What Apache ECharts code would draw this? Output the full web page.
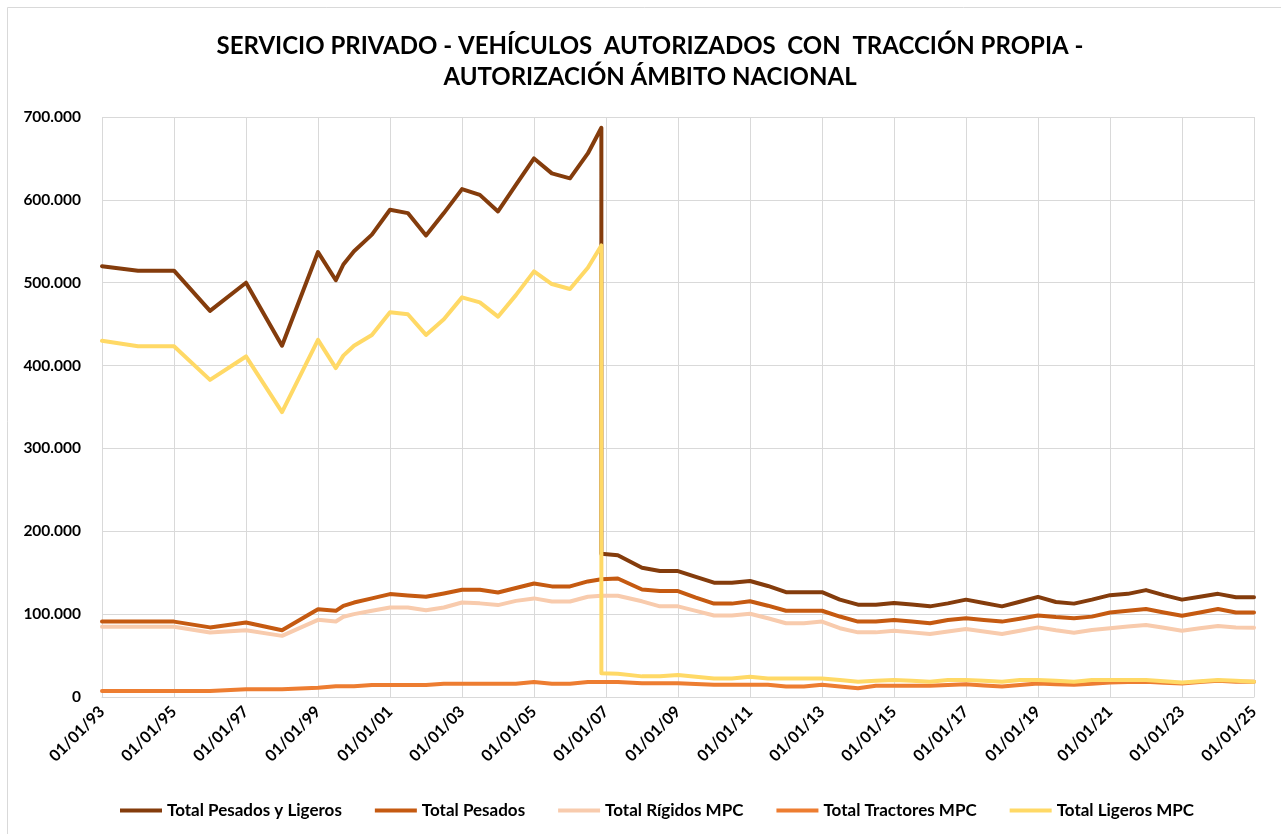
<!DOCTYPE html>
<html>
<head>
<meta charset="utf-8">
<script src="https://cdn.jsdelivr.net/npm/echarts@6/dist/echarts.min.js"></script>
<style>
  html, body { margin: 0; padding: 0; background: #fff; }
  #chart { width: 1281px; height: 834px; }
</style>
</head>
<body>
<div id="chart"></div>
<script>
// fechas de cada punto (la ruptura de 2006 tiene dos puntos en la misma fecha)
const fechas = [
  '1993-01-01', '1994-01-01', '1995-01-01', '1996-01-01', '1997-01-01', '1998-01-01',
  '1999-01-01', '1999-07-01', '1999-09-15', '2000-01-01', '2000-07-01', '2001-01-01',
  '2001-07-01', '2002-01-01', '2002-07-01', '2003-01-01', '2003-07-01', '2004-01-01',
  '2004-07-01', '2005-01-01', '2005-07-01', '2006-01-01', '2006-07-01', '2006-11-15',
  '2006-11-15', '2007-05-01', '2008-01-01', '2008-07-01', '2009-01-01', '2009-07-01',
  '2010-01-01', '2010-07-01', '2011-01-01', '2011-07-01', '2012-01-01', '2012-07-01',
  '2013-01-01', '2013-07-01', '2014-01-01', '2014-07-01', '2015-01-01', '2015-07-01',
  '2016-01-01', '2016-07-01', '2017-01-01', '2017-07-01', '2018-01-01', '2018-07-01',
  '2019-01-01', '2019-07-01', '2020-01-01', '2020-07-01', '2021-01-01', '2021-07-01',
  '2022-01-01', '2022-07-01', '2023-01-01', '2023-07-01', '2024-01-01', '2024-07-01',
  '2025-01-01'
];

// valores en miles de vehículos
const totalPesadosLigeros = [
  520, 514.5, 514.5, 466, 500, 424, 537, 503, 522, 538, 558, 588,
  584, 557, 584, 613, 606, 586, 618, 650, 632, 626, 656, 687,
  173, 171, 156, 152, 152, 145, 138, 138, 140, 134, 126.5, 126.5,
  126.5, 117.5, 111.4, 111.4, 113.5, 111.5, 109.4, 113, 117.5, 113.5, 109.4, 115,
  120.8, 114.7, 112.7, 117.5, 122.9, 124.5, 129, 123, 117.5, 121, 124.5, 120.4,
  120.4
];
const totalPesados = [
  91, 91, 91, 84, 90, 80.6, 106, 104, 110, 114, 119, 124.2,
  122.5, 121, 125, 129.4, 129.4, 126.2, 131.5, 137, 133.5, 133.5, 139.5, 142,
  142, 143, 129.8, 127.8, 127.8, 120, 112.7, 112.7, 115.5, 110.2, 104.1, 104.1,
  104.1, 97.1, 91, 91, 93, 91, 89, 93, 95.1, 93, 91, 94.5,
  98.4, 96.5, 95.1, 97, 102, 104, 106.1, 102, 98, 102, 106.1, 102,
  102
];
const totalRigidos = [
  84.7, 84.7, 84.7, 77.8, 80.6, 73.8, 93.1, 91.1, 96.8, 100, 104, 108,
  108, 104.8, 108, 114.1, 113, 110.9, 116, 119, 115.3, 115.3, 121, 122.2,
  122.2, 122.2, 115.5, 109.4, 109.4, 104, 98.4, 98.4, 100.4, 95, 89, 89,
  91, 83, 78, 78, 80, 78, 76, 79, 82, 79, 76, 80,
  84, 80.5, 77.6, 80.8, 83, 85, 87, 83.5, 80, 83, 85.7, 84,
  83.7
];
const totalTractores = [
  7.3, 7.3, 7.3, 7.3, 9.3, 9.3, 11.3, 12.9, 12.9, 12.9, 14.5, 14.5,
  14.5, 14.5, 16.1, 16.1, 16.1, 16.1, 16.1, 18.1, 16.1, 16.1, 18.1, 18.1,
  18.1, 18.1, 16.7, 16.7, 16.7, 15.7, 14.7, 14.7, 14.7, 14.7, 12.7, 12.7,
  14.7, 12.7, 10.6, 13.5, 13.5, 13.5, 13.5, 14.5, 15.5, 14, 12.7, 14.5,
  16.3, 15.5, 14.7, 16, 17.6, 18, 18.4, 17.3, 16.3, 18, 19.6, 18.4,
  18.4
];
const totalLigeros = [
  430, 423.3, 423.3, 382.7, 411, 343.8, 431, 397, 412, 424, 437, 464.3,
  462, 437, 456, 482.3, 476.3, 459, 485, 513.7, 498.4, 492.4, 518, 545,
  28.6, 28, 24.9, 24.9, 26.5, 24.5, 22.4, 22.4, 24.5, 22.4, 22.4, 22.4,
  22.4, 20.4, 18.4, 19.5, 20.4, 19.5, 18.4, 20.4, 20.4, 19.5, 18.4, 20.4,
  20.4, 19.5, 18.4, 20.4, 20.4, 20.4, 20.4, 19, 17.6, 19, 20.4, 19.5,
  18.4
];

const nombres = ['Total Pesados y Ligeros', 'Total Pesados', 'Total Rígidos MPC', 'Total Tractores MPC', 'Total Ligeros MPC'];
const colores = ['#843C0C', '#C55A11', '#F8CBAD', '#ED7D31', '#FFD966'];
const series = [totalPesadosLigeros, totalPesados, totalRigidos, totalTractores, totalLigeros];

const anioInicio = 1993;
const anioFin = 2025;

// años transcurridos desde 01/01/93 (eje continuo de fechas)
function aniosDesdeInicio(fecha) {
  const d = new Date(fecha + 'T00:00:00Z');
  const y = d.getUTCFullYear();
  const ini = Date.UTC(y, 0, 1);
  const fin = Date.UTC(y + 1, 0, 1);
  return (y - anioInicio) + (d.getTime() - ini) / (fin - ini);
}

// separador de miles con punto
function formatoMiles(v) {
  return String(Math.round(v)).replace(/\B(?=(\d{3})+(?!\d))/g, '.');
}

const chart = echarts.init(document.getElementById('chart'));
const fuente = 'Lato, "Open Sans", sans-serif';

const option = {
  animation: false,
  backgroundColor: '#fff',
  textStyle: { fontFamily: fuente },
  title: {
    text: 'SERVICIO PRIVADO - VEHÍCULOS  AUTORIZADOS  CON  TRACCIÓN PROPIA -\nAUTORIZACIÓN ÁMBITO NACIONAL',
    left: 645,
    top: 26,
    textAlign: 'center',
    textStyle: {
      fontFamily: fuente,
      fontSize: 24,
      fontWeight: 'bold',
      color: '#000',
      lineHeight: 31
    }
  },
  legend: {
    top: 797,
    left: 115,
    icon: 'rect',
    itemWidth: 42,
    itemHeight: 4,
    itemGap: 33,
    textStyle: { fontFamily: fuente, fontSize: 17, fontWeight: 'bold', color: '#000' },
    data: nombres
  },
  grid: { left: 102, right: 27, top: 117, bottom: 137, containLabel: false },
  xAxis: {
    type: 'value',
    min: 0,
    max: anioFin - anioInicio,
    interval: 2,
    axisLine: { show: true, lineStyle: { color: '#d9d9d9', width: 1 } },
    axisTick: { show: false },
    splitLine: { show: true, lineStyle: { color: '#d9d9d9', width: 1 } },
    axisLabel: {
      rotate: 45,
      margin: 12,
      fontFamily: fuente,
      fontSize: 16,
      fontWeight: 'bold',
      color: '#000',
      formatter: v => '01/01/' + String(anioInicio + v).slice(2)
    }
  },
  yAxis: {
    type: 'value',
    min: 0,
    max: 700000,
    interval: 100000,
    axisLine: { show: false },
    axisTick: { show: false },
    splitLine: { show: true, lineStyle: { color: '#d9d9d9', width: 1 } },
    axisLabel: {
      margin: 21,
      fontFamily: fuente,
      fontSize: 15.5,
      fontWeight: 'bold',
      color: '#000',
      formatter: formatoMiles
    }
  },
  graphic: [{
    type: 'rect',
    silent: true,
    shape: { x: 7.5, y: 7.5, width: 1300, height: 900 },
    style: { fill: 'none', stroke: '#d9d9d9', lineWidth: 1 }
  }],
  series: series.map((valores, i) => ({
    name: nombres[i],
    type: 'line',
    showSymbol: false,
    symbol: 'none',
    color: colores[i],
    lineStyle: { color: colores[i], width: 4, cap: 'round', join: 'round' },
    data: valores.map((v, j) => [aniosDesdeInicio(fechas[j]), v * 1000])
  }))
};

chart.setOption(option);
</script>
</body>
</html>
